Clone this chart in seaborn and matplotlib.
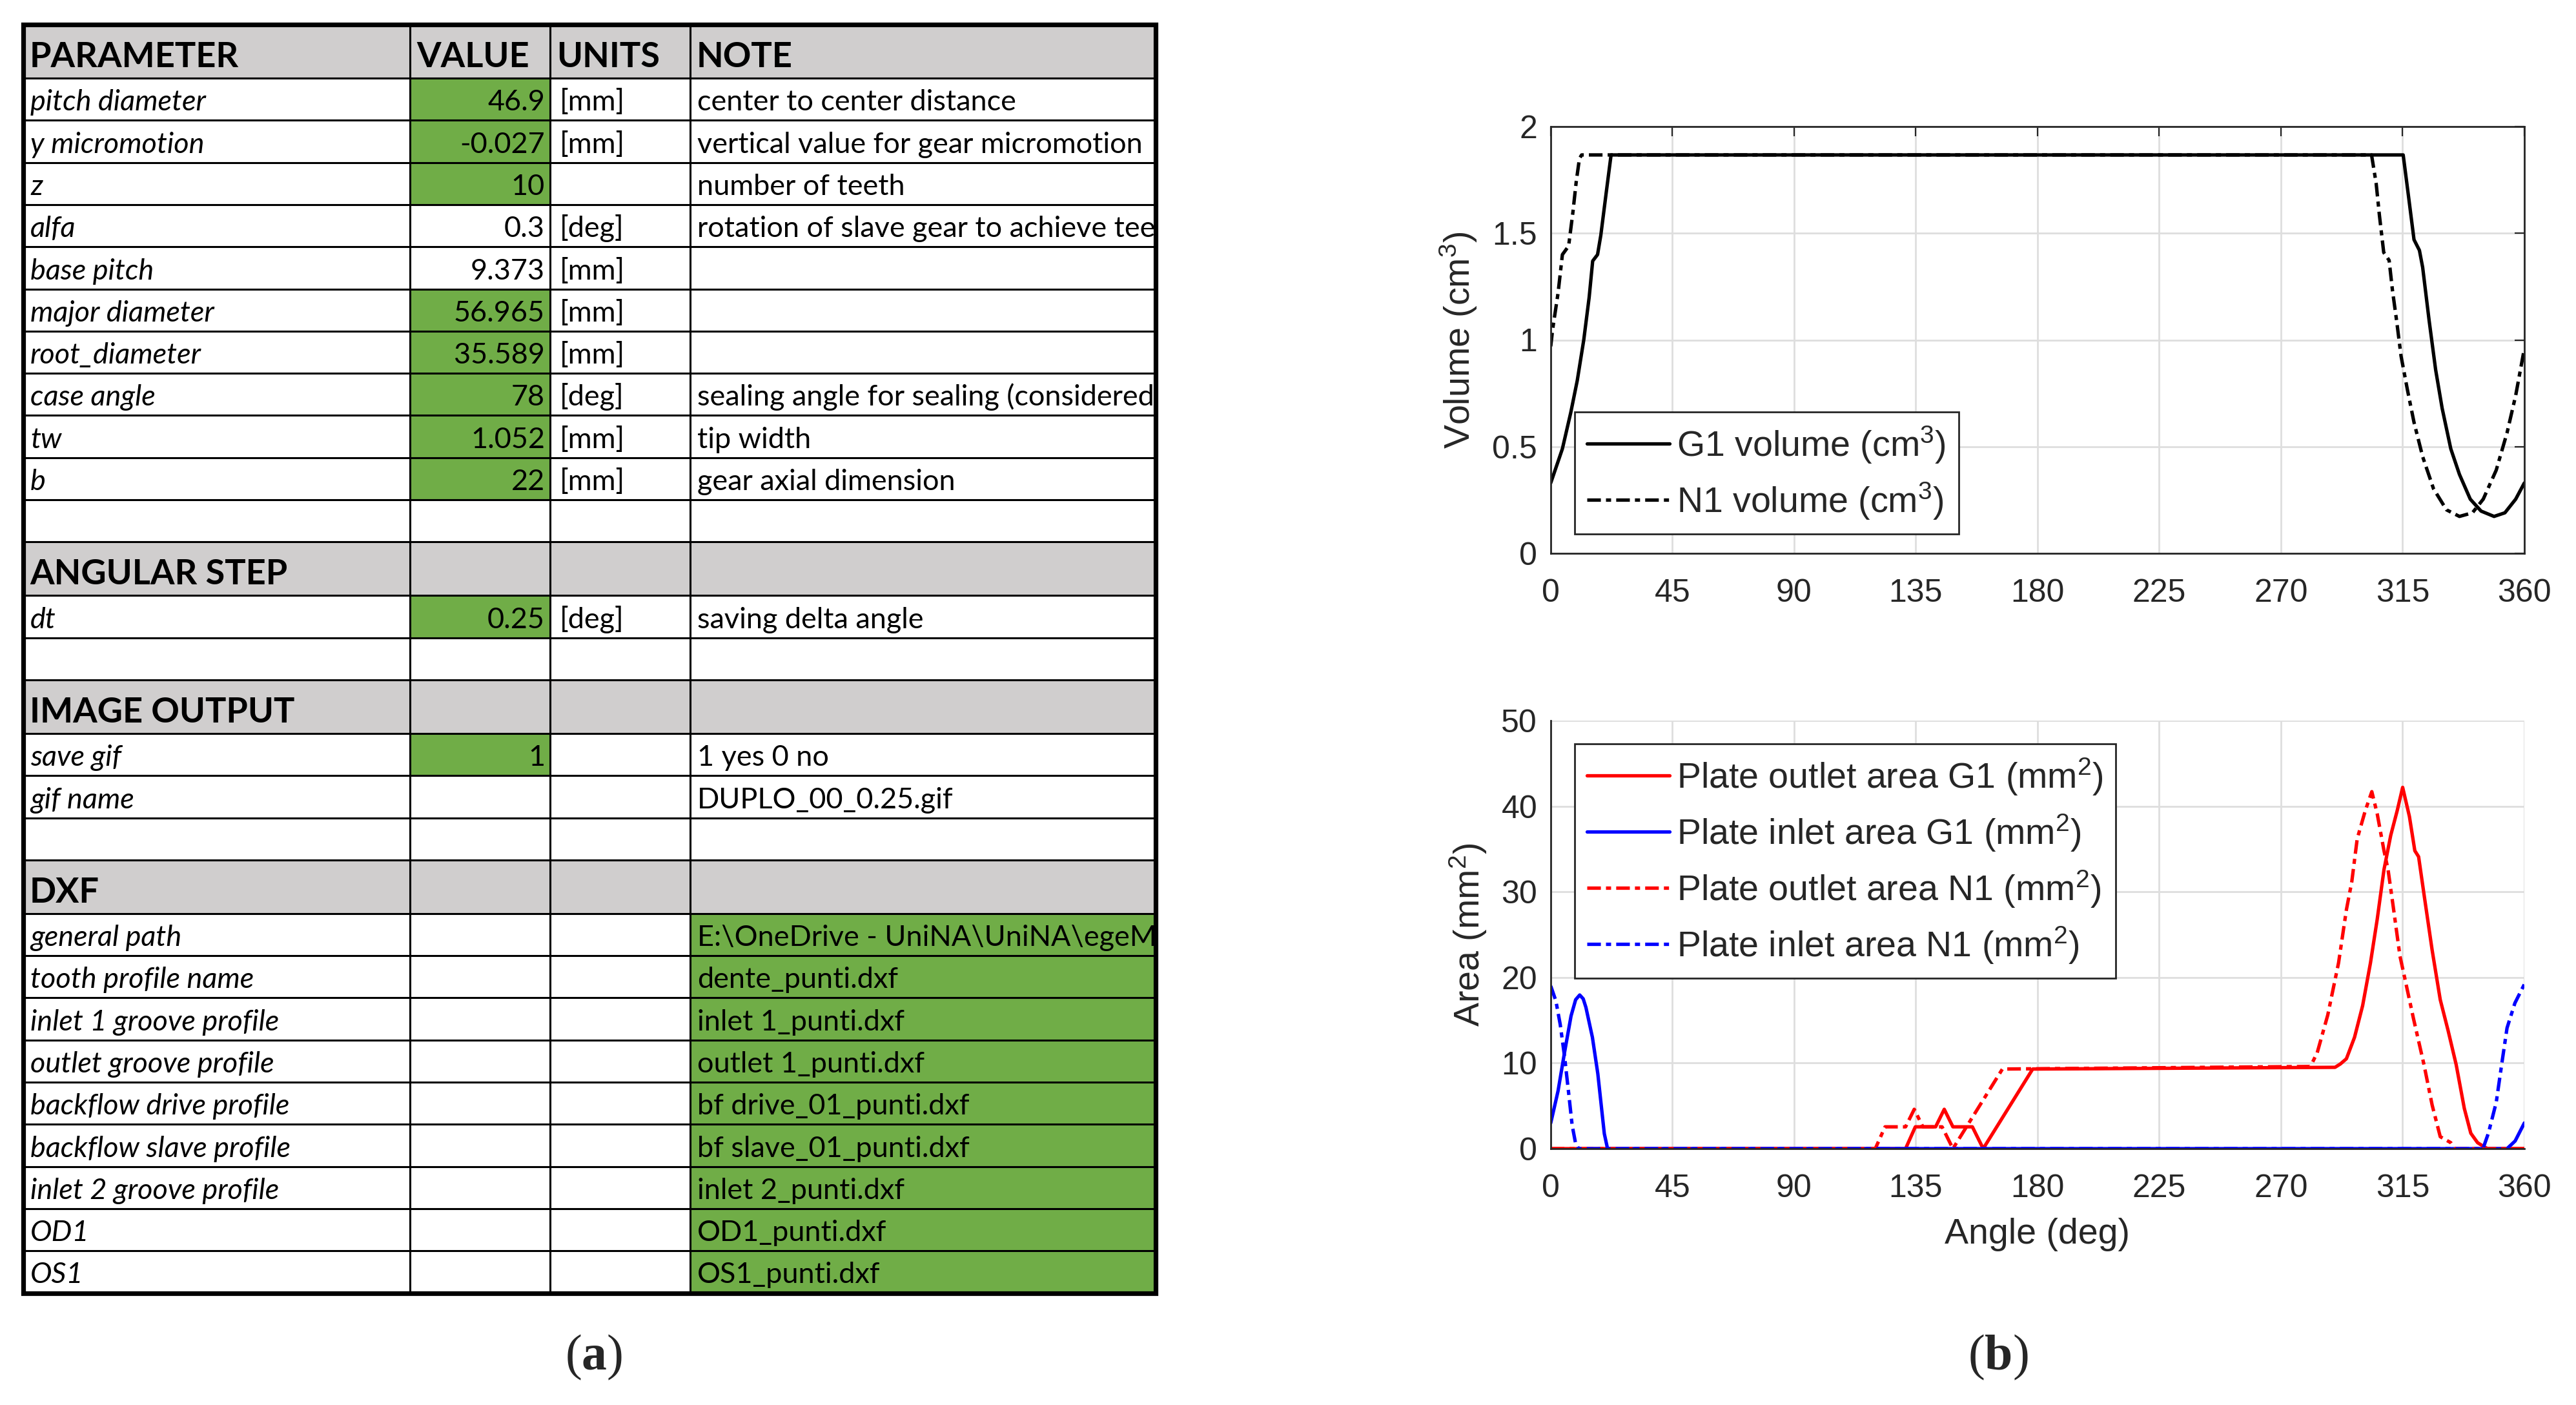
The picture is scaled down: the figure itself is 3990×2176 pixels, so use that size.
"""
Gear pump simulation: input parameter sheet (a) and chamber volume / plate area curves (b)
"""

import matplotlib
matplotlib.use("Agg")
import matplotlib.pyplot as plt
import seaborn as sns
from matplotlib.patches import Rectangle
from matplotlib.lines import Line2D
from matplotlib.ticker import FormatStrFormatter

# ---------------- table data ----------------
main_names = ['pitch diameter', 'y micromotion', 'z', 'alfa', 'base pitch',
              'major diameter', 'root_diameter', 'case angle', 'tw', 'b']
main_values = ['46.9', '-0.027', '10', '0.3', '9.373', '56.965', '35.589', '78', '1.052', '22']
main_units = ['[mm]', '[mm]', '', '[deg]', '[mm]', '[mm]', '[mm]', '[deg]', '[mm]', '[mm]']
main_notes = ['center to center distance', 'vertical value for gear micromotion',
              'number of teeth', 'rotation of slave gear to achieve teeth contact', '', '', '',
              'sealing angle for sealing (considered)', 'tip width', 'gear axial dimension']
main_input = [True, True, True, False, False, True, True, True, True, True]

step_names = ['dt']
step_values = ['0.25']
step_units = ['[deg]']
step_notes = ['saving delta angle']
step_input = [True]

image_names = ['save gif', 'gif name']
image_values = ['1', '']
image_units = ['', '']
image_notes = ['1 yes 0 no', 'DUPLO_00_0.25.gif']
image_input = [True, False]

dxf_names = ['general path', 'tooth profile name', 'inlet 1 groove profile',
             'outlet groove profile', 'backflow drive profile', 'backflow slave profile',
             'inlet 2 groove profile', 'OD1', 'OS1']
dxf_files = ['E:\\OneDrive - UniNA\\UniNA\\egeMAS', 'dente_punti.dxf', 'inlet 1_punti.dxf',
             'outlet 1_punti.dxf', 'bf drive_01_punti.dxf', 'bf slave_01_punti.dxf',
             'inlet 2_punti.dxf', 'OD1_punti.dxf', 'OS1_punti.dxf']

# ---------------- volume curves (cm^3) ----------------
vol_angle_g1 = [0, 4.3, 7.4, 9.8, 12.2, 14.2, 15.5, 17.3, 18.5, 20.5, 22.3,
                315.2, 317.2, 319.2, 321.2, 322.4, 324.8, 327.2, 329.6, 332.8, 336.0,
                340.0, 344.0, 348.8, 352.8, 356.8, 360]
vol_g1 = [0.33, 0.49, 0.66, 0.81, 1.0, 1.2, 1.37, 1.40, 1.49, 1.69, 1.867,
          1.867, 1.67, 1.47, 1.42, 1.34, 1.09, 0.86, 0.68, 0.49, 0.37,
          0.254, 0.198, 0.173, 0.19, 0.254, 0.33]

vol_angle_n1 = [0, 0.7, 2.7, 4.3, 6.6, 7.4, 8.2, 9.4, 10.6, 11.4,
                303.5, 305.2, 306.4, 308.0, 310.0, 311.2, 312.8, 314.4, 316.8, 319.2,
                322.4, 326.4, 331.2, 336.0, 340.8, 344.8, 349.6, 353.6, 356.8, 360]
vol_n1 = [0.97, 1.05, 1.22, 1.40, 1.44, 1.52, 1.60, 1.74, 1.85, 1.867,
          1.867, 1.734, 1.585, 1.41, 1.373, 1.236, 1.087, 0.925, 0.764, 0.614,
          0.453, 0.303, 0.204, 0.173, 0.19, 0.254, 0.39, 0.565, 0.74, 0.96]

# ---------------- plate areas (mm^2) ----------------
out_angle_g1 = [0, 131.2, 134.8, 142.3, 145.5, 148.7, 155.9, 159.9, 178.2, 290.0,
                292.0, 294.2, 297.2, 300.2, 303.1, 305.6, 308.1, 310.6, 313.0, 315.0,
                317.5, 319.5, 320.9, 322.9, 325.9, 328.9, 331.8, 334.8, 337.8, 340.2,
                342.7, 345.2, 346.5, 360]
out_g1 = [0, 0, 2.55, 2.55, 4.6, 2.55, 2.55, 0, 9.3, 9.5,
          9.9, 10.5, 13.0, 16.7, 21.7, 26.8, 32.6, 36.6, 39.5, 42.2,
          38.8, 34.8, 34.1, 29.7, 23.2, 17.4, 13.8, 9.8, 4.7, 1.8,
          0.7, 0.2, 0, 0]

in_angle_g1 = [0, 2.7, 5.1, 7.5, 9.2, 10.7, 12.0, 13.0, 15.4, 17.4, 18.6, 19.8, 21.0,
               353.6, 356.6, 360]
in_g1 = [3.0, 6.75, 11.25, 15.5, 17.4, 17.95, 17.5, 16.5, 13.0, 8.75, 5.25, 1.75, 0,
         0, 0.9, 3.0]

out_angle_n1 = [0, 120.0, 123.6, 131.2, 134.4, 137.6, 144.7, 148.7, 167.0, 280.9,
                283.4, 287.3, 291.3, 294.2, 296.2, 298.2, 301.2, 303.6, 305.6, 308.1,
                309.6, 311.5, 314.0, 316.0, 319.0, 322.9, 325.9, 328.9, 332.8, 334.3, 360]
out_n1 = [0, 0, 2.55, 2.55, 4.6, 2.55, 2.55, 0, 9.3, 9.6,
          11.2, 15.6, 21.7, 27.9, 31.2, 36.2, 39.5, 41.7, 39.1, 34.8,
          32.6, 28.3, 22.5, 19.6, 15.2, 9.8, 5.1, 1.4, 0.7, 0, 0]

in_angle_n1 = [0, 1.9, 3.5, 5.1, 6.7, 7.9, 9.1, 10.3, 344.7, 346.7, 349.6, 351.6,
               353.6, 356.5, 360]
in_n1 = [19.0, 17.25, 14.5, 10.75, 6.25, 2.75, 0.75, 0, 0, 1.8, 5.4, 9.8,
         14.1, 17.0, 19.2]

angle_ticks = [0, 45, 90, 135, 180, 225, 270, 315, 360]

# ---------------- style ----------------
W, H, DPI = 3991, 2176, 200
sns.set_theme(style="white")
plt.rcParams.update({
    'font.family': ['Liberation Sans', 'DejaVu Sans'],
    'mathtext.fontset': 'custom',
    'mathtext.rm': 'Liberation Sans',
    'mathtext.it': 'Liberation Sans:italic',
    'mathtext.bf': 'Liberation Serif:bold',
})

AX_COLOR = '#262626'
GRID_COLOR = '#dedede'
GREEN = '#70AD47'
GRAY = '#D0CECE'
LW = 1.9
DASHDOT = (0, (4, 1.5, 1.5, 1.5))

fig = plt.figure(figsize=(W / DPI, H / DPI), dpi=DPI)
fig.patch.set_facecolor('white')

# ========== (a) parameter sheet ==========
TOP, LEFT, RIGHT = 38, 36, 1790
COLS = [LEFT, 635, 852, 1069, RIGHT]
HEAD_H, ROW_H = 83, 65.3

rows = [dict(kind='head', cells=['PARAMETER', 'VALUE', 'UNITS', 'NOTE'], green=[])]
for i in range(len(main_names)):
    rows.append(dict(kind='row', cells=[main_names[i], main_values[i], main_units[i], main_notes[i]],
                     green=[1] if main_input[i] else []))
rows.append(dict(kind='row', cells=['', '', '', ''], green=[]))
rows.append(dict(kind='head', cells=['ANGULAR STEP', '', '', ''], green=[]))
for i in range(len(step_names)):
    rows.append(dict(kind='row', cells=[step_names[i], step_values[i], step_units[i], step_notes[i]],
                     green=[1] if step_input[i] else []))
rows.append(dict(kind='row', cells=['', '', '', ''], green=[]))
rows.append(dict(kind='head', cells=['IMAGE OUTPUT', '', '', ''], green=[]))
for i in range(len(image_names)):
    rows.append(dict(kind='row', cells=[image_names[i], image_values[i], image_units[i], image_notes[i]],
                     green=[1] if image_input[i] else []))
rows.append(dict(kind='row', cells=['', '', '', ''], green=[]))
rows.append(dict(kind='head', cells=['DXF', '', '', ''], green=[]))
for i in range(len(dxf_names)):
    rows.append(dict(kind='row', cells=[dxf_names[i], '', '', dxf_files[i]], green=[3]))

total_h = sum(HEAD_H if r['kind'] == 'head' else ROW_H for r in rows)
ax_t = fig.add_axes([LEFT / W, 1 - (TOP + total_h) / H, (RIGHT - LEFT) / W, total_h / H])
ax_t.set_xlim(LEFT, RIGHT)
ax_t.set_ylim(TOP + total_h, TOP)
ax_t.axis('off')

y = TOP
for r in rows:
    h = HEAD_H if r['kind'] == 'head' else ROW_H
    for c in range(4):
        face = GRAY if r['kind'] == 'head' else (GREEN if c in r['green'] else 'white')
        ax_t.add_patch(Rectangle((COLS[c], y), COLS[c + 1] - COLS[c], h,
                                 facecolor=face, edgecolor='none', zorder=1))
    bottom = y + h
    if r['kind'] == 'head':
        for c, txt in enumerate(r['cells']):
            if txt:
                ax_t.text(COLS[c] + 10, bottom - 17, txt, family='Lato', fontweight='bold',
                          fontsize=19.5, ha='left', va='baseline', color='black',
                          zorder=3, clip_on=True)
    else:
        name, val, unit, note = r['cells']
        base = bottom - 15
        kw = dict(family='Lato', fontsize=16.2, va='baseline', color='black', zorder=3, clip_on=True)
        if name:
            ax_t.text(COLS[0] + 11, base, name, ha='left', style='italic', **kw)
        if val:
            ax_t.text(COLS[2] - 8, base, val, ha='right', **kw)
        if unit:
            ax_t.text(COLS[2] + 15, base, unit, ha='left', **kw)
        if note:
            ax_t.text(COLS[3] + 11, base, note, ha='left', **kw)
    ax_t.plot([LEFT, RIGHT], [bottom, bottom], color='black', lw=1.1, zorder=4, clip_on=False)
    y = bottom

for cx in COLS[1:4]:
    ax_t.plot([cx, cx], [TOP, TOP + total_h], color='black', lw=1.1, zorder=4, clip_on=False)
ax_t.add_patch(Rectangle((LEFT, TOP), RIGHT - LEFT, total_h, facecolor='none',
                         edgecolor='black', lw=2.6, zorder=5, clip_on=False))

fig.text(920 / W, 1 - 2102 / H, r'($\mathbf{a}$)', ha='center', va='center',
         fontsize=28, family='Liberation Serif')

# ========== (b) volume and area curves ==========
AX_L, AX_R = 2402, 3910
ax_v = fig.add_axes([AX_L / W, 1 - 857 / H, (AX_R - AX_L) / W, (857 - 196) / H])
ax_a = fig.add_axes([AX_L / W, 1 - 1779 / H, (AX_R - AX_L) / W, (1779 - 1116) / H])


def curve(ax, x, y, color, ls):
    sns.lineplot(x=x, y=y, ax=ax, color=color, linestyle=ls, linewidth=LW,
                 sort=False, estimator=None, legend=False)


def style_axes(ax, box):
    ax.set_xlim(0, 360)
    ax.set_xticks(angle_ticks)
    ax.grid(True, color=GRID_COLOR, linewidth=1.0)
    ax.set_axisbelow(True)
    for side in ['left', 'bottom', 'top', 'right']:
        ax.spines[side].set_color(AX_COLOR)
        ax.spines[side].set_linewidth(1.0)
        ax.spines[side].set_visible(box or side in ('left', 'bottom'))
    ax.tick_params(direction='in', length=5.5, width=0.8, colors=AX_COLOR, labelsize=18,
                   top=box, right=box)
    ax.tick_params(axis='x', pad=14)
    ax.tick_params(axis='y', pad=7.5)


def add_legend(ax, handles, labels, anchor):
    leg = ax.legend(handles, labels, loc='upper left', bbox_to_anchor=anchor,
                    borderaxespad=0, frameon=True, fancybox=False, edgecolor=AX_COLOR,
                    framealpha=1, fontsize=20, handlelength=2.3, handletextpad=0.2,
                    borderpad=0.35, labelspacing=0.42)
    leg.get_frame().set_linewidth(1.0)
    return leg


# top: chamber volume
curve(ax_v, vol_angle_g1, vol_g1, 'black', '-')
curve(ax_v, vol_angle_n1, vol_n1, 'black', DASHDOT)
style_axes(ax_v, box=True)
ax_v.set_ylim(0, 2)
ax_v.set_yticks([0, 0.5, 1, 1.5, 2])
ax_v.yaxis.set_major_formatter(FormatStrFormatter('%g'))
ax_v.set_ylabel('Volume (cm$^3$)', fontsize=20, color=AX_COLOR)
ax_v.yaxis.set_label_coords(-0.095, 0.5)
ax_v.yaxis.label.set_va('center')

vol_handles = [Line2D([], [], color='black', lw=LW, ls='-'),
               Line2D([], [], color='black', lw=LW, ls=DASHDOT)]
vol_labels = ['G1 volume (cm$^3$)', 'N1 volume (cm$^3$)']
add_legend(ax_v, vol_handles, vol_labels, (0.0245, 0.332))

# bottom: plate areas
curve(ax_a, out_angle_g1, out_g1, '#FF0000', '-')
curve(ax_a, in_angle_g1, in_g1, '#0000FF', '-')
curve(ax_a, out_angle_n1, out_n1, '#FF0000', DASHDOT)
curve(ax_a, in_angle_n1, in_n1, '#0000FF', DASHDOT)
style_axes(ax_a, box=False)
ax_a.set_ylim(0, 50)
ax_a.set_yticks([0, 10, 20, 30, 40, 50])
ax_a.set_ylabel('Area (mm$^2$)', fontsize=20, color=AX_COLOR)
ax_a.yaxis.set_label_coords(-0.085, 0.5)
ax_a.yaxis.label.set_va('center')
ax_a.set_xlabel('Angle (deg)', fontsize=20, color=AX_COLOR)
ax_a.xaxis.set_label_coords(0.5, -0.2)
ax_a.xaxis.label.set_va('center')

area_handles = [Line2D([], [], color='#FF0000', lw=LW, ls='-'),
                Line2D([], [], color='#0000FF', lw=LW, ls='-'),
                Line2D([], [], color='#FF0000', lw=LW, ls=DASHDOT),
                Line2D([], [], color='#0000FF', lw=LW, ls=DASHDOT)]
area_labels = ['Plate outlet area G1 (mm$^2$)', 'Plate inlet area G1 (mm$^2$)',
               'Plate outlet area N1 (mm$^2$)', 'Plate inlet area N1 (mm$^2$)']
add_legend(ax_a, area_handles, area_labels, (0.0245, 0.946))

fig.text(3095 / W, 1 - 2102 / H, r'($\mathbf{b}$)', ha='center', va='center',
         fontsize=28, family='Liberation Serif')

fig.savefig('out.png', dpi=DPI, facecolor='white')
plt.close(fig)
